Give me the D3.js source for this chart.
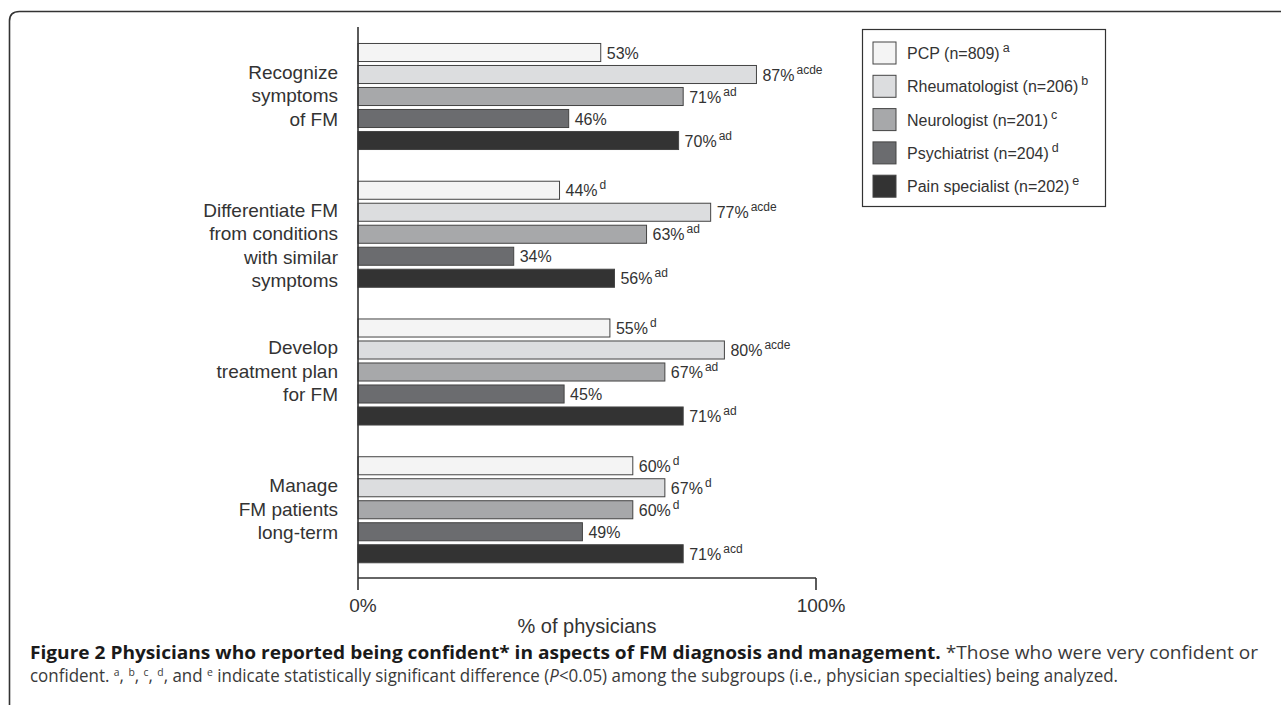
<html>
<head>
  <title>Physicians confident in FM diagnosis and management</title>
  <script src='https://d3js.org/d3.v7.min.js'></script>
  <style>
    body { margin: 0; background: white; }
    text { font-family: 'Liberation Sans', Arial, Helvetica, sans-serif; }
  </style>
</head>
<body>
<script>

// data
var groups = [
  ["Recognize", "symptoms", "of FM"],
  ["Differentiate FM", "from conditions", "with similar", "symptoms"],
  ["Develop", "treatment plan", "for FM"],
  ["Manage", "FM patients", "long-term"]
];
var specialties = ["PCP", "Rheumatologist", "Neurologist", "Psychiatrist", "Pain specialist"];
var legendLabels = ["PCP (n=809)", "Rheumatologist (n=206)", "Neurologist (n=201)", "Psychiatrist (n=204)", "Pain specialist (n=202)"];
var legendLetters = ["a", "b", "c", "d", "e"];
var fills = ["#f4f4f4", "#dcdddf", "#a7a8aa", "#6b6c6f", "#333333"];
// values[group][specialty]
var values = [
  [53, 87, 71, 46, 70],
  [44, 77, 63, 34, 56],
  [55, 80, 67, 45, 71],
  [60, 67, 60, 49, 71]
];
var sigLetters = [
  ["", "acde", "ad", "", "ad"],
  ["d", "acde", "ad", "", "ad"],
  ["d", "acde", "ad", "", "ad"],
  ["d", "d", "d", "", "acd"]
];
var xTicks = [0, 100];

var width = 1281,
    height = 705,
    x0 = 358, x1 = 816,
    yTop = 27, yBot = 578;

var svg = d3.select('body')
  .append('svg')
  .attr('width', width)
  .attr('height', height);

// frame with rounded corner
svg.append('path')
  .attr('d', 'M9.5,705 L9.5,21 Q9.5,11.5 19.5,11.5 L1281,11.5')
  .attr('fill', 'none')
  .attr('stroke', '#333')
  .attr('stroke-width', 1.6);

var x = d3.scaleLinear().domain([0, 100]).range([x0, x1]);

var yGroup = d3.scaleBand()
  .domain(d3.range(groups.length))
  .range([yTop, yBot]);

var yInner = d3.scaleBand()
  .domain(specialties)
  .range([14.5, 124.5])
  .paddingInner(0.18)
  .paddingOuter(0.09);

var g = svg.append('g');

var groupG = g.selectAll('g.group')
  .data(values)
  .enter()
  .append('g')
  .attr('class', 'group')
  .attr('transform', function(d, i) { return 'translate(0,' + yGroup(i) + ')'; });

groupG.selectAll('rect')
  .data(function(d) { return d; })
  .enter()
  .append('rect')
  .attr('x', x(0))
  .attr('y', function(d, i) { return yInner(specialties[i]); })
  .attr('width', function(d) { return x(d) - x(0); })
  .attr('height', yInner.bandwidth())
  .attr('fill', function(d, i) { return fills[i]; })
  .attr('stroke', '#444')
  .attr('stroke-width', 1);

// value labels with superscript letters
var vlab = groupG.selectAll('text.val')
  .data(function(d, gi) { return d.map(function(v, i) { return {v: v, i: i, gi: gi}; }); })
  .enter()
  .append('text')
  .attr('class', 'val')
  .attr('x', function(d) { return x(d.v) + 6; })
  .attr('y', function(d) { return yInner(specialties[d.i]) + yInner.bandwidth() / 2 + 6; })
  .attr('font-size', 16)
  .attr('fill', '#333');

vlab.append('tspan').text(function(d) { return d.v + '%'; });
vlab.append('tspan')
  .attr('dx', 2)
  .attr('dy', -7)
  .attr('font-size', 12)
  .text(function(d) { return sigLetters[d.gi][d.i]; });

// category labels, first line anchored near the group centre
groupG.each(function(d, gi) {
  var t = d3.select(this).append('text')
    .attr('text-anchor', 'end')
    .attr('font-size', 19)
    .attr('fill', '#333');
  var c = yGroup.bandwidth() / 2;
  groups[gi].forEach(function(line, li) {
    t.append('tspan')
      .attr('x', 338)
      .attr('y', c - 17 + li * 23.5)
      .text(line);
  });
});

// axes
svg.append('line')
  .attr('x1', x0).attr('x2', x0)
  .attr('y1', yTop).attr('y2', yBot)
  .attr('stroke', '#333').attr('stroke-width', 1.6);

svg.append('line')
  .attr('x1', x(0)).attr('x2', x(100))
  .attr('y1', yBot).attr('y2', yBot)
  .attr('stroke', '#333').attr('stroke-width', 1.6);

svg.selectAll('line.tick')
  .data(xTicks)
  .enter()
  .append('line')
  .attr('class', 'tick')
  .attr('x1', function(d) { return x(d); })
  .attr('x2', function(d) { return x(d); })
  .attr('y1', yBot).attr('y2', yBot + 12)
  .attr('stroke', '#333').attr('stroke-width', 1.6);

svg.selectAll('text.tick')
  .data(xTicks)
  .enter()
  .append('text')
  .attr('class', 'tick')
  .attr('x', function(d) { return x(d) + 5; })
  .attr('y', 612)
  .attr('text-anchor', 'middle')
  .attr('font-size', 19)
  .attr('fill', '#333')
  .text(function(d) { return d + '%'; });

svg.append('text')
  .attr('x', (x0 + x1) / 2)
  .attr('y', 633)
  .attr('text-anchor', 'middle')
  .attr('font-size', 20)
  .attr('fill', '#333')
  .text('% of physicians');

// legend
var lg = svg.append('g');
lg.append('rect')
  .attr('x', 862.5).attr('y', 29.5)
  .attr('width', 243).attr('height', 177)
  .attr('fill', 'white')
  .attr('stroke', '#333').attr('stroke-width', 1.2);

var items = lg.selectAll('g.item')
  .data(legendLabels)
  .enter()
  .append('g')
  .attr('class', 'item')
  .attr('transform', function(d, i) { return 'translate(873,' + (42 + i * 33.3) + ')'; });

items.append('rect')
  .attr('width', 23).attr('height', 22)
  .attr('fill', function(d, i) { return fills[i]; })
  .attr('stroke', '#444').attr('stroke-width', 1);

var ltxt = items.append('text')
  .attr('x', 34)
  .attr('y', 17)
  .attr('font-size', 16)
  .attr('fill', '#333');
ltxt.append('tspan').text(function(d) { return d; });
ltxt.append('tspan')
  .attr('dx', 3).attr('dy', -7)
  .attr('font-size', 12.5)
  .text(function(d, i) { return legendLetters[i]; });

// caption
var capFont = "'Open Sans', sans-serif";
var cap1 = svg.append('text')
  .attr('x', 30).attr('y', 659)
  .attr('font-size', 18)
  .attr('textLength', 1228)
  .attr('lengthAdjust', 'spacingAndGlyphs')
  .style('font-family', capFont);
cap1.append('tspan')
  .attr('font-weight', 'bold').attr('fill', '#1a1a1a')
  .text('Figure 2 Physicians who reported being confident* in aspects of FM diagnosis and management.');
cap1.append('tspan')
  .attr('fill', '#3a3a3a')
  .text(' *Those who were very confident or');

var cap2 = svg.append('text')
  .attr('x', 30).attr('y', 682)
  .attr('font-size', 18)
  .attr('fill', '#3a3a3a')
  .attr('textLength', 1088)
  .attr('lengthAdjust', 'spacingAndGlyphs')
  .style('font-family', capFont);
cap2.append('tspan').text('confident. ');
legendLetters.forEach(function(l, i) {
  cap2.append('tspan').attr('dy', -6).attr('font-size', 11).text(l);
  var sep = i < 3 ? ', ' : (i === 3 ? ', and ' : ' indicate statistically significant difference (');
  cap2.append('tspan').attr('dy', 6).text(sep);
});
cap2.append('tspan').attr('font-style', 'italic').text('P');
cap2.append('tspan').text('<0.05) among the subgroups (i.e., physician specialties) being analyzed.');

</script>
</body>
</html>
